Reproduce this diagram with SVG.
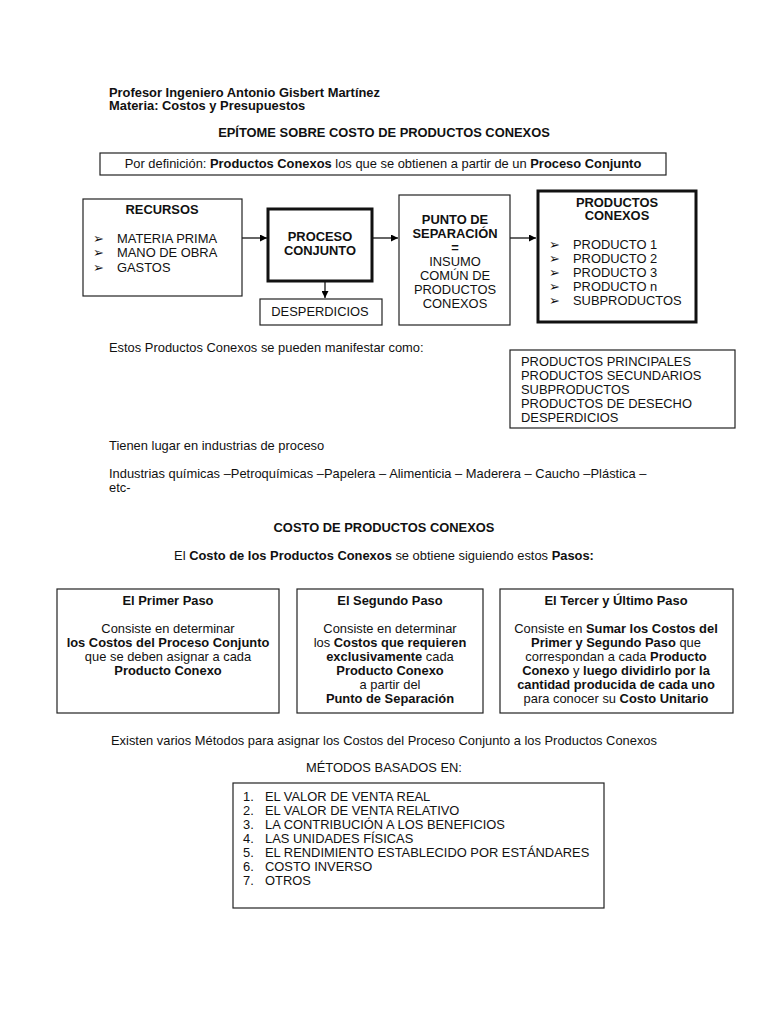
<svg xmlns="http://www.w3.org/2000/svg" width="768" height="1024" viewBox="0 0 768 1024">
<defs>
<marker id="ah" viewBox="0 0 10 10" refX="10" refY="5" markerWidth="7" markerHeight="7" orient="auto" markerUnits="userSpaceOnUse"><path d="M0,0 L10,5 L0,10 z" fill="#000"/></marker>
<style>
text{font-family:"Liberation Sans",Arial,sans-serif;font-size:12.9px;fill:#111}
.b{font-weight:bold}
.c{text-anchor:middle}
.box{fill:#fff;stroke:#222;stroke-width:1.2}
.thick{fill:#fff;stroke:#111;stroke-width:3}
.ln{stroke:#000;stroke-width:1.2;fill:none;marker-end:url(#ah)}
</style>
</defs>
<rect width="768" height="1024" fill="#fff"/>
<g id="header">
<text x="109" y="97" class="b">Profesor Ingeniero Antonio Gisbert Martínez</text>
<text x="109" y="110" class="b">Materia: Costos y Presupuestos</text>
<text x="384" y="137" class="b c">EPÍTOME SOBRE COSTO DE PRODUCTOS CONEXOS</text>
</g>
<g id="definicion">
<rect x="100" y="153" width="566" height="22" class="box"/>
<text x="383" y="168" class="c">Por definición: <tspan class="b">Productos Conexos</tspan> los que se obtienen a partir de un <tspan class="b">Proceso Conjunto</tspan></text>
</g>
<g id="connectors">
<line x1="242" y1="238" x2="267" y2="238" class="ln"/>
<line x1="372" y1="238" x2="398" y2="238" class="ln"/>
<line x1="510" y1="238" x2="536" y2="238" class="ln"/>
<line x1="325" y1="282" x2="325" y2="298" class="ln"/>
</g>
<g id="recursos">
<rect x="83" y="199" width="159" height="97" class="box"/>
<text x="162" y="214" class="b c">RECURSOS</text>
<text x="93" y="243">➢</text><text x="117" y="243">MATERIA PRIMA</text>
<text x="93" y="257">➢</text><text x="117" y="257">MANO DE OBRA</text>
<text x="93" y="272">➢</text><text x="117" y="272">GASTOS</text>
</g>
<g id="proceso">
<rect x="268" y="209" width="104" height="72" class="thick"/>
<text x="320" y="241" class="b c">PROCESO</text>
<text x="320" y="255" class="b c">CONJUNTO</text>
</g>
<g id="desperdicios">
<rect x="260" y="299" width="122" height="26" class="box"/>
<text x="320" y="316" class="c">DESPERDICIOS</text>
</g>
<g id="punto">
<rect x="399" y="195" width="111" height="130" class="box"/>
<text x="455" y="224" class="b c">PUNTO DE</text>
<text x="455" y="238" class="b c">SEPARACIÓN</text>
<text x="455" y="252" class="b c">=</text>
<text x="455" y="266" class="c">INSUMO</text>
<text x="455" y="280" class="c">COMÚN DE</text>
<text x="455" y="294" class="c">PRODUCTOS</text>
<text x="455" y="308" class="c">CONEXOS</text>
</g>
<g id="productos">
<rect x="538" y="191" width="158" height="131" class="thick"/>
<text x="617" y="207" class="b c">PRODUCTOS</text>
<text x="617" y="220" class="b c">CONEXOS</text>
<text x="549" y="249">➢</text><text x="573" y="249">PRODUCTO 1</text>
<text x="549" y="263">➢</text><text x="573" y="263">PRODUCTO 2</text>
<text x="549" y="277">➢</text><text x="573" y="277">PRODUCTO 3</text>
<text x="549" y="291">➢</text><text x="573" y="291">PRODUCTO n</text>
<text x="549" y="305">➢</text><text x="573" y="305">SUBPRODUCTOS</text>
</g>
<g id="manifestar">
<text x="109" y="352">Estos Productos Conexos se pueden manifestar como:</text>
<rect x="510" y="350" width="225" height="78" class="box"/>
<text x="521" y="366">PRODUCTOS PRINCIPALES</text>
<text x="521" y="380">PRODUCTOS SECUNDARIOS</text>
<text x="521" y="394">SUBPRODUCTOS</text>
<text x="521" y="408">PRODUCTOS DE DESECHO</text>
<text x="521" y="422">DESPERDICIOS</text>
</g>
<g id="industrias">
<text x="109" y="450">Tienen lugar en industrias de proceso</text>
<text x="109" y="478">Industrias químicas –Petroquímicas –Papelera – Alimenticia – Maderera – Caucho –Plástica –</text>
<text x="109" y="492">etc-</text>
<text x="384" y="532" class="b c">COSTO DE PRODUCTOS CONEXOS</text>
<text x="384" y="560" class="c">El <tspan class="b">Costo de los Productos Conexos</tspan> se obtiene siguiendo estos <tspan class="b">Pasos:</tspan></text>
</g>
<g id="paso1">
<rect x="57" y="589" width="222" height="124" class="box"/>
<text x="168" y="605" class="b c">El Primer Paso</text>
<text x="168" y="633" class="c">Consiste en determinar</text>
<text x="168" y="647" class="b c">los Costos del Proceso Conjunto</text>
<text x="168" y="661" class="c">que se deben asignar a cada</text>
<text x="168" y="675" class="b c">Producto Conexo</text>
</g>
<g id="paso2">
<rect x="297" y="589" width="186" height="124" class="box"/>
<text x="390" y="605" class="b c">El Segundo Paso</text>
<text x="390" y="633" class="c">Consiste en determinar</text>
<text x="390" y="647" class="c">los <tspan class="b">Costos que requieren</tspan></text>
<text x="390" y="661" class="c"><tspan class="b">exclusivamente</tspan> cada</text>
<text x="390" y="675" class="b c">Producto Conexo</text>
<text x="390" y="689" class="c">a partir del</text>
<text x="390" y="703" class="b c">Punto de Separación</text>
</g>
<g id="paso3">
<rect x="500" y="589" width="233" height="124" class="box"/>
<text x="616" y="605" class="b c">El Tercer y Último Paso</text>
<text x="616" y="633" class="c">Consiste en <tspan class="b">Sumar los Costos del</tspan></text>
<text x="616" y="647" class="c"><tspan class="b">Primer y Segundo Paso</tspan> que</text>
<text x="616" y="661" class="c">correspondan a cada <tspan class="b">Producto</tspan></text>
<text x="616" y="675" class="c"><tspan class="b">Conexo</tspan> y <tspan class="b">luego dividirlo por la</tspan></text>
<text x="616" y="689" class="b c">cantidad producida de cada uno</text>
<text x="616" y="703" class="c">para conocer su <tspan class="b">Costo Unitario</tspan></text>
</g>
<g id="metodos">
<text x="384" y="745" class="c">Existen varios Métodos para asignar los Costos del Proceso Conjunto a los Productos Conexos</text>
<text x="384" y="772" class="c">MÉTODOS BASADOS EN:</text>
<rect x="233" y="783" width="371" height="125" class="box"/>
<text x="243" y="801">1.</text><text x="265" y="801">EL VALOR DE VENTA REAL</text>
<text x="243" y="815">2.</text><text x="265" y="815">EL VALOR DE VENTA RELATIVO</text>
<text x="243" y="829">3.</text><text x="265" y="829">LA CONTRIBUCIÓN A LOS BENEFICIOS</text>
<text x="243" y="843">4.</text><text x="265" y="843">LAS UNIDADES FÍSICAS</text>
<text x="243" y="857">5.</text><text x="265" y="857">EL RENDIMIENTO ESTABLECIDO POR ESTÁNDARES</text>
<text x="243" y="871">6.</text><text x="265" y="871">COSTO INVERSO</text>
<text x="243" y="885">7.</text><text x="265" y="885">OTROS</text>
</g>
</svg>
